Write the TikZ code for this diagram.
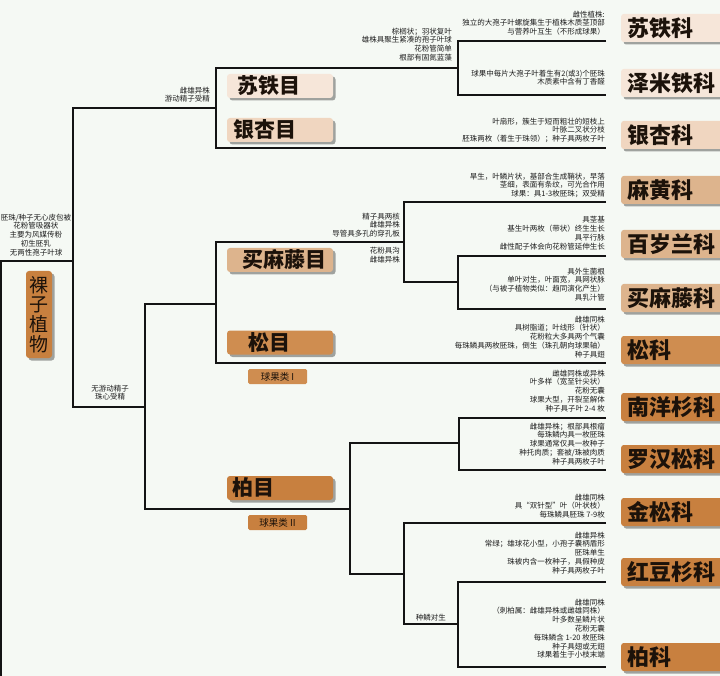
\documentclass[tikz,border=0pt]{standalone}
\usepackage{fontspec}
\setmainfont{Noto Sans CJK SC}
\usetikzlibrary{shadows}
\definecolor{bg}{HTML}{F5F9F4}
\definecolor{txt}{HTML}{1E1E1E}
\definecolor{lab}{HTML}{1C120A}
\definecolor{cA}{HTML}{F6E6D9}
\definecolor{cB}{HTML}{F0D6C0}
\definecolor{cC}{HTML}{DDB48D}
\definecolor{cD}{HTML}{CF8D50}
\definecolor{cE}{HTML}{C8803F}
\begin{document}
\begin{tikzpicture}[x=1pt,y=-1pt,
  tree/.style={line width=2.2pt,draw=black!92,line join=miter},
  desc/.style={font=\fontsize{7.5}{8.8}\selectfont,text=txt,inner sep=0pt,align=right,anchor=north east},
  descc/.style={font=\fontsize{7.5}{8.8}\selectfont,text=txt,inner sep=0pt,align=center,anchor=north},
  shad/.style={drop shadow={shadow xshift=2.5pt,shadow yshift=-2.5pt,fill=black,opacity=0.35}},
  fambox/.style={shad,rounded corners=2.5pt,minimum width=104pt,minimum height=28pt,anchor=west,inner xsep=6pt,inner ysep=0pt,align=left,text width=92pt,font=\bfseries\fontsize{22}{22}\selectfont,text=lab},
  ordbox/.style={shad,rounded corners=3pt,minimum width=106pt,minimum height=24pt,inner sep=0pt},
  ordtext/.style={font=\bfseries\fontsize{21}{21}\selectfont,text=lab,inner sep=0pt,anchor=west},
  conebox/.style={rounded corners=1.5pt,minimum width=59pt,minimum height=15pt,inner sep=0pt,font=\fontsize{9.5}{9.5}\selectfont,text=lab}
]
\fill[bg] (0,0) rectangle (720,676);
\useasboundingbox (0,0) rectangle (720,676);

% ---------- coordinates of the tree ----------
\coordinate (root) at (1,676);
\coordinate (j1) at (73,261);
\coordinate (n1) at (216,108);
\coordinate (n2) at (145,407);
\coordinate (s1) at (458,68);
\coordinate (eCyc) at (606,41);
\coordinate (eZam) at (606,95);
\coordinate (eGin) at (606,148);
\coordinate (m1) at (216,304);
\coordinate (g1) at (404,242);
\coordinate (g2) at (458,282);
\coordinate (eEph) at (606,202);
\coordinate (eWel) at (606,256);
\coordinate (eGne) at (606,309);
\coordinate (ePin) at (606,363);
\coordinate (c1) at (350,509);
\coordinate (c2) at (459,443);
\coordinate (c3) at (404,574);
\coordinate (c4) at (458,624);
\coordinate (eAra) at (606,418);
\coordinate (ePod) at (606,470);
\coordinate (eSci) at (606,523);
\coordinate (eTax) at (606,582);
\coordinate (eCup) at (606,667);

% ---------- tree ----------
\draw[tree] (root) |- (j1);
\draw[tree] (n1) -| (j1) |- (n2);
\draw[tree] (s1) -| (n1) |- (eGin);
\draw[tree] (eCyc) -| (s1) |- (eZam);
\draw[tree] (m1) -| (n2) |- (c1);
\draw[tree] (g1) -| (m1) |- (ePin);
\draw[tree] (eEph) -| (g1) |- (g2);
\draw[tree] (eWel) -| (g2) |- (eGne);
\draw[tree] (c2) -| (c1) |- (c3);
\draw[tree] (eAra) -| (c2) |- (ePod);
\draw[tree] (eSci) -| (c3) |- (c4);
\draw[tree] (eTax) -| (c4) |- (eCup);

% ---------- gymnosperm label ----------
\node[shad,fill=cE,rounded corners=3pt,minimum width=26pt,minimum height=87pt,inner sep=0pt] (gym) at (39,314.5) {};
\node[font=\fontsize{19}{20}\selectfont,text=lab,inner sep=0pt,align=center] (gymt) at (39,314.5) {裸\\[-0.2pt]子\\[-0.2pt]植\\[-0.2pt]物};

% ---------- order boxes ----------
\node[ordbox,fill=cA] (oCyc) at (280,86) {};
\node[ordtext] (oCyct) at (237,86) {苏铁目};
\node[ordbox,fill=cB] (oGin) at (280,130) {};
\node[ordtext] (oGint) at (233,130) {银杏目};
\node[ordbox,fill=cC] (oGne) at (280,260) {};
\node[ordtext] (oGnet) at (242,260) {买麻藤目};
\node[ordbox,fill=cD] (oPin) at (280,342.5) {};
\node[ordtext] (oPint) at (248,342.5) {松目};
\node[ordbox,fill=cE] (oCup) at (280,488) {};
\node[ordtext] (oCupt) at (232,488) {柏目};
\node[conebox,fill=cD] (cone1) at (277.5,376.5) {球果类 I};
\node[conebox,fill=cE] (cone2) at (277.5,522.5) {球果类 II};

% ---------- family boxes ----------
\node[fambox,fill=cA] (fCyc) at (621,28) {苏铁科};
\node[fambox,fill=cA] (fZam) at (621,83) {泽米铁科};
\node[fambox,fill=cB] (fGin) at (621,135) {银杏科};
\node[fambox,fill=cC] (fEph) at (621,190) {麻黄科};
\node[fambox,fill=cC] (fWel) at (621,244) {百岁兰科};
\node[fambox,fill=cC] (fGne) at (621,298) {买麻藤科};
\node[fambox,fill=cD] (fPin) at (621,350) {松科};
\node[fambox,fill=cE] (fAra) at (621,407) {南洋杉科};
\node[fambox,fill=cE] (fPod) at (621,459) {罗汉松科};
\node[fambox,fill=cE] (fSci) at (621,512) {金松科};
\node[fambox,fill=cE] (fTax) at (621,572) {红豆杉科};
\node[fambox,fill=cE] (fCup) at (621,657) {柏科};

% ---------- descriptions ----------
\node[descc] (dGym) at (36,213.5) {胚珠/种子无心皮包被\\花粉管吸器状\\主要为风媒传粉\\初生胚乳\\无两性孢子叶球};
\node[desc] (dDio) at (210,86.5) {雌雄异株\\游动精子受精};
\node[descc] (dNon) at (110,384.5) {无游动精子\\珠心受精};
\node[desc] (dCycO) at (452,27.5) {棕榈状；羽状复叶\\雄株具聚生紧凑的孢子叶球\\花粉管简单\\根部有固氮蓝藻};
\node[desc] (dCyc) at (605,10.5) {雌性植株:\\独立的大孢子叶螺旋集生于植株木质茎顶部\\与营养叶互生（不形成球果）};
\node[desc] (dZam) at (605,69.5) {球果中每片大孢子叶着生有2(或3)个胚珠\\木质素中含有丁香醛};
\node[desc] (dGin) at (605,117.5) {叶扇形，簇生于短而粗壮的短枝上\\叶脉二叉状分枝\\胚珠两枚（着生于珠领）；种子具两枚子叶};
\node[desc] (dGneA) at (400,212.5) {精子具两核\\雌雄异株\\导管具多孔的穿孔板};
\node[desc] (dGneB) at (400,247.5) {花粉具沟\\雌雄异株};
\node[desc] (dEph) at (605,172.5) {旱生，叶鳞片状，基部合生成鞘状，早落\\茎细，表面有条纹，可光合作用\\球果：具1-3枚胚珠；双受精};
\node[desc] (dWel) at (605,216.5) {具茎基\\基生叶两枚（带状）终生生长\\具平行脉\\雌性配子体会向花粉管延伸生长};
\node[desc] (dGne) at (605,267.5) {具外生菌根\\单叶对生，叶面宽，具网状脉\\（与被子植物类似：趋同演化产生）\\具乳汁管};
\node[desc] (dPin) at (605,315.5) {雌雄同株\\具树脂道；叶线形（针状）\\花粉粒大多具两个气囊\\每珠鳞具两枚胚珠，倒生（珠孔朝向球果轴）\\种子具翅};
\node[desc] (dAra) at (605,369.5) {雌雄同株或异株\\叶多样（宽至针尖状）\\花粉无囊\\球果大型，开裂至解体\\种子具子叶 2-4 枚};
\node[desc] (dPod) at (605,422.5) {雌雄异株；根部具根瘤\\每珠鳞内具一枚胚珠\\球果通常仅具一枚种子\\种托肉质；套被/珠被肉质\\种子具两枚子叶};
\node[desc] (dSci) at (605,493.5) {雌雄同株\\具“双针型”叶（叶状枝）\\每珠鳞具胚珠 7-9枚};
\node[desc] (dTax) at (605,531.5) {雌雄异株\\常绿；雄球花小型，小孢子囊柄盾形\\胚珠单生\\珠被内含一枚种子，具假种皮\\种子具两枚子叶};
\node[desc] (dCup) at (605,598.5) {雌雄同株\\（刺柏属：雌雄异株或雌雄同株）\\叶多数呈鳞片状\\花粉无囊\\每珠鳞含 1-20 枚胚珠\\种子具翅或无翅\\球果着生于小枝末端};
\node[desc] (dOpp) at (446,613.5) {种鳞对生};
\end{tikzpicture}
\end{document}
